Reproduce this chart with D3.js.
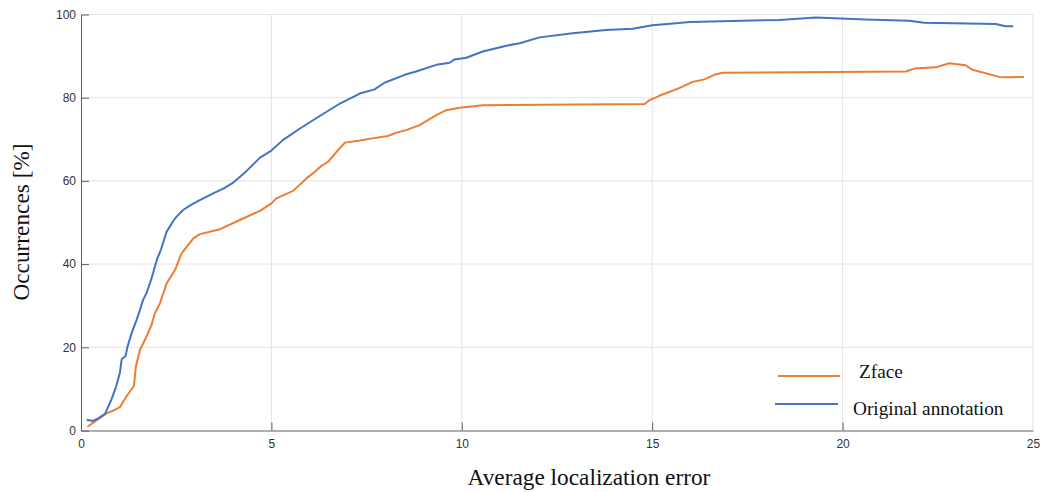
<!DOCTYPE html>
<html>
<head>
<meta charset="utf-8">
<script src="https://cdn.jsdelivr.net/npm/d3@7"></script>
<style>
  body { margin: 0; background: #fff; }
  svg { display: block; }
</style>
</head>
<body>
<div id="chart"></div>
<script>
// average localization error (x) vs cumulative occurrences in % (y)
var annotationErr = [0.15, 0.31, 0.45, 0.63, 0.8, 0.92, 1.02, 1.07, 1.17, 1.22, 1.33, 1.46, 1.55, 1.63, 1.72, 1.85, 1.99, 2.1, 2.25, 2.47, 2.68, 2.9, 3.12, 3.47, 3.75, 4.0, 4.35, 4.7, 5.0, 5.3, 5.75, 6.27, 6.8, 7.32, 7.71, 7.97, 8.5, 8.8, 9.33, 9.68, 9.81, 10.12, 10.55, 11.17, 11.52, 12.04, 12.91, 13.79, 14.49, 15.0, 15.63, 15.98, 18.34, 19.3, 20.6, 21.75, 22.14, 24.02, 24.28, 24.48];
var annotationPct = [2.6, 2.3, 2.9, 4.0, 7.5, 10.5, 13.8, 17.2, 17.9, 20.1, 23.4, 26.6, 29, 31.4, 33, 36.5, 41, 43.5, 47.8, 51, 53, 54.3, 55.4, 57, 58.2, 59.6, 62.4, 65.6, 67.3, 69.8, 72.6, 75.6, 78.6, 81, 82, 83.6, 85.5, 86.3, 87.9, 88.4, 89.2, 89.6, 91.1, 92.5, 93.1, 94.5, 95.5, 96.3, 96.6, 97.4, 97.9, 98.2, 98.7, 99.3, 98.8, 98.5, 98.0, 97.7, 97.2, 97.2];

var zfaceErr = [0.17, 0.67, 0.85, 1.02, 1.2, 1.39, 1.44, 1.55, 1.68, 1.85, 1.94, 2.07, 2.25, 2.47, 2.64, 2.95, 3.12, 3.65, 4.17, 4.7, 5.0, 5.13, 5.57, 5.92, 6.14, 6.31, 6.49, 6.71, 6.93, 7.32, 7.76, 8.06, 8.28, 8.54, 8.89, 9.33, 9.59, 9.94, 10.38, 10.55, 14.8, 14.93, 15.17, 15.71, 16.06, 16.37, 16.63, 16.85, 21.66, 21.88, 22.45, 22.8, 23.23, 23.41, 24.11, 24.37, 24.76];
var zfacePct = [0.9, 4.1, 4.8, 5.6, 8.3, 10.7, 15.3, 19.4, 21.8, 25.3, 28.2, 30.5, 35.4, 38.6, 42.6, 46.2, 47.2, 48.4, 50.6, 52.8, 54.6, 55.8, 57.6, 60.6, 62.2, 63.6, 64.6, 67, 69.2, 69.7, 70.4, 70.8, 71.6, 72.2, 73.4, 75.8, 77, 77.6, 78, 78.2, 78.5, 79.4, 80.4, 82.3, 83.8, 84.4, 85.5, 86.0, 86.3, 87.0, 87.3, 88.3, 87.8, 86.7, 85.0, 84.9, 85.0];

var xTicks = [0, 5, 10, 15, 20, 25];
var yTicks = [0, 20, 40, 60, 80, 100];

var seriesNames = ["Zface", "Original annotation"];
var seriesColors = ["#ED7D31", "#4472C4"];

var width = 1042, height = 492;
var margin = {top: 14.5, right: 9, bottom: 61.5, left: 81};
var innerW = width - margin.left - margin.right;
var innerH = height - margin.top - margin.bottom;

var svg = d3.select("#chart").append("svg")
    .attr("width", width).attr("height", height);

var g = svg.append("g").attr("transform", "translate(" + margin.left + "," + margin.top + ")");

var x = d3.scaleLinear().domain([0, 25]).range([0, innerW]);
var y = d3.scaleLinear().domain([0, 100]).range([innerH, 0]);

// grid
g.append("g").selectAll("line").data(xTicks.slice(1)).enter().append("line")
    .attr("x1", d => x(d)).attr("x2", d => x(d))
    .attr("y1", 0).attr("y2", innerH)
    .attr("stroke", "#e4e4e4").attr("stroke-width", 1);
g.append("g").selectAll("line").data(yTicks.slice(1)).enter().append("line")
    .attr("x1", 0).attr("x2", innerW)
    .attr("y1", d => y(d)).attr("y2", d => y(d))
    .attr("stroke", "#e4e4e4").attr("stroke-width", 1);

// axes
var xAxis = g.append("g").attr("transform", "translate(0," + innerH + ")")
    .call(d3.axisBottom(x).tickValues(xTicks).tickSize(-8).tickSizeOuter(0).tickPadding(9));
var yAxis = g.append("g")
    .call(d3.axisLeft(y).tickValues(yTicks).tickSize(-8).tickSizeOuter(0).tickPadding(5));

[xAxis, yAxis].forEach(function(a) {
    a.selectAll("path, line").attr("stroke", "#5f5f5f");
    a.selectAll("text").attr("fill", "#333").style("font-family", "Arial, 'Liberation Sans', sans-serif").style("font-size", "12px");
});
xAxis.selectAll(".tick").filter(d => d === 25).select("line").remove();

// lines
var line = d3.line().x(d => x(d[0])).y(d => y(d[1]));
var zfaceData = zfaceErr.map((e, i) => [e, zfacePct[i]]);
var annotationData = annotationErr.map((e, i) => [e, annotationPct[i]]);

g.append("path").datum(zfaceData)
    .attr("fill", "none").attr("stroke", seriesColors[0]).attr("stroke-width", 2)
    .attr("stroke-linejoin", "round").attr("d", line);
g.append("path").datum(annotationData)
    .attr("fill", "none").attr("stroke", seriesColors[1]).attr("stroke-width", 2)
    .attr("stroke-linejoin", "round").attr("d", line);

// axis titles
svg.append("text")
    .attr("x", 589).attr("y", 485)
    .attr("text-anchor", "middle")
    .style("font-family", "'Liberation Serif', 'Times New Roman', serif").style("font-size", "23.3px")
    .attr("fill", "#111")
    .text("Average localization error");
svg.append("text")
    .attr("transform", "translate(29,222) rotate(-90)")
    .attr("text-anchor", "middle")
    .style("font-family", "'Liberation Serif', 'Times New Roman', serif").style("font-size", "23.3px")
    .attr("fill", "#111")
    .text("Occurrences [%]");

// legend
var legendItems = [
    {name: seriesNames[0], color: seriesColors[0], x1: 778, x2: 840, ly: 376, tx: 859, ty: 378},
    {name: seriesNames[1], color: seriesColors[1], x1: 775, x2: 838, ly: 404, tx: 853, ty: 415}
];
var legend = svg.append("g");
legendItems.forEach(function(it) {
    legend.append("line")
        .attr("x1", it.x1).attr("x2", it.x2).attr("y1", it.ly).attr("y2", it.ly)
        .attr("stroke", it.color).attr("stroke-width", 2);
    legend.append("text")
        .attr("x", it.tx).attr("y", it.ty)
        .style("font-family", "'Liberation Serif', 'Times New Roman', serif").style("font-size", "19.3px")
        .attr("fill", "#111")
        .text(it.name);
});
</script>
</body>
</html>
